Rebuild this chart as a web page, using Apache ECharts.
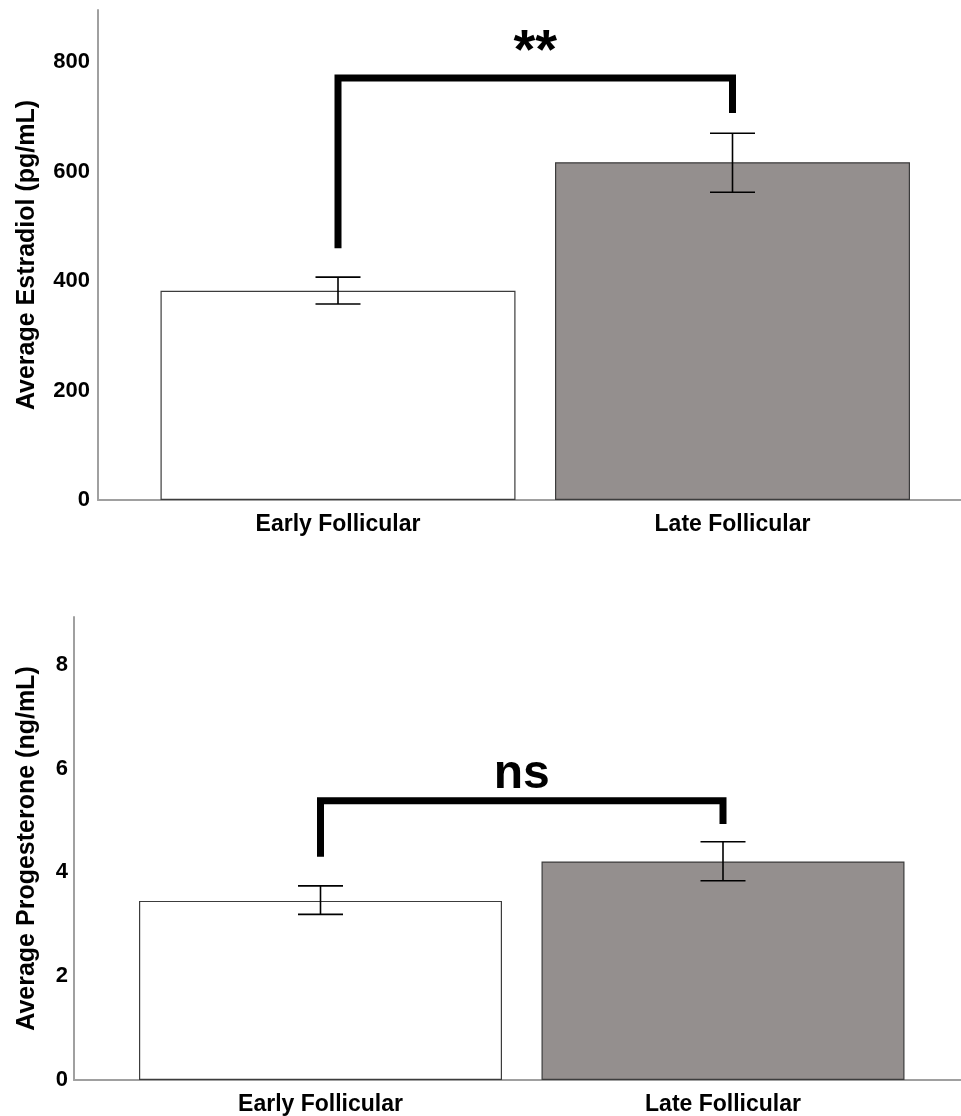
<!DOCTYPE html>
<html>
<head>
<meta charset="utf-8">
<script src="https://cdn.jsdelivr.net/npm/echarts@6/dist/echarts.min.js"></script>
<style>
  html, body { margin: 0; padding: 0; background: #fff; }
  #chart { width: 961px; height: 1116px; }
</style>
</head>
<body>
<div id="chart"></div>
<script>
// ---- data ----
const categories = ['Early Follicular', 'Late Follicular'];
const estradiolMean = [382, 617];
const estradiolLow = [358, 562];
const estradiolHigh = [407, 670];
const progMean = [3.45, 4.21];
const progLow = [3.19, 3.84];
const progHigh = [3.74, 4.59];
const estradiolTitle = 'Average Estradiol (pg/mL)';
const progTitle = 'Average Progesterone (ng/mL)';
const estradiolAxis = [0, 895, 200];   // min, max, interval
const progAxis = [0, 8.92, 2];
// bracket: [top, left leg bottom, right leg bottom]
const estradiolBracket = [771, 460, 707];
const progBracket = [5.38, 4.30, 4.93];
const sigLabels = ['**', 'ns'];
const sigLabelY = [818, 5.88];

const FONT = "'Liberation Sans', Arial, sans-serif";
const barColors = ['#ffffff', '#948f8e'];
const axisGray = '#a0a0a0';

const chart = echarts.init(document.getElementById('chart'), null, { renderer: 'canvas' });

function frameGrid(left, top, height) {
  return { left: left, right: 0, top: top, height: height, containLabel: false, outerBoundsMode: 'none' };
}

function errorSeries(xi, yi, low, high) {
  return {
    type: 'custom', xAxisIndex: xi, yAxisIndex: yi, z: 5, silent: true,
    data: categories.map((c, i) => [i, low[i], high[i]]),
    renderItem: function (params, api) {
      const lo = api.coord([api.value(0), api.value(1)]);
      const hi = api.coord([api.value(0), api.value(2)]);
      const hw = 22.5;
      const st = { stroke: '#000', lineWidth: 1.6 };
      return { type: 'group', children: [
        { type: 'line', shape: { x1: lo[0], y1: lo[1], x2: hi[0], y2: hi[1] }, style: st },
        { type: 'line', shape: { x1: hi[0] - hw, y1: hi[1], x2: hi[0] + hw, y2: hi[1] }, style: st },
        { type: 'line', shape: { x1: lo[0] - hw, y1: lo[1], x2: lo[0] + hw, y2: lo[1] }, style: st }
      ]};
    }
  };
}

function bracketSeries(xi, yi, br, label, labelY, fontSize) {
  return {
    type: 'custom', xAxisIndex: xi, yAxisIndex: yi, z: 6, silent: true, clip: false,
    data: [[0, br[0], br[1], br[2], labelY]],
    renderItem: function (params, api) {
      const tl = api.coord([0, api.value(1)]);
      const tr = api.coord([1, api.value(1)]);
      const bl = api.coord([0, api.value(2)]);
      const brr = api.coord([1, api.value(3)]);
      const ly = api.coord([0, api.value(4)])[1];
      const lx = (tl[0] + tr[0]) / 2;
      return { type: 'group', children: [
        { type: 'polyline',
          shape: { points: [[bl[0], bl[1]], [tl[0], tl[1]], [tr[0], tr[1]], [brr[0], brr[1]]] },
          style: { stroke: '#000', lineWidth: 7, fill: null, lineJoin: 'miter', lineCap: 'butt' } },
        { type: 'text', x: lx, y: ly,
          style: { text: label, fill: '#000', fontSize: fontSize, fontWeight: 'bold',
                   fontFamily: FONT, align: 'center', verticalAlign: 'middle' } }
      ]};
    }
  };
}

function frameX(gi) {
  return { type: 'value', gridIndex: gi, min: 0, max: 1,
    axisLine: { show: true, lineStyle: { color: axisGray, width: 2 } },
    axisTick: { show: false }, axisLabel: { show: false }, splitLine: { show: false } };
}
function frameY(gi, ax, title, gap, labMargin) {
  return { type: 'value', gridIndex: gi, min: ax[0], max: ax[1], interval: ax[2],
    name: title, nameLocation: 'middle', nameGap: gap, nameRotate: 90,
    nameTextStyle: { fontFamily: FONT, fontWeight: 'bold', fontSize: 25, color: '#000' },
    axisLine: { show: true, lineStyle: { color: axisGray, width: 2 } },
    axisTick: { show: false },
    axisLabel: { fontFamily: FONT, fontWeight: 'bold', fontSize: 22, color: '#000', margin: labMargin,
                 showMaxLabel: false },
    splitLine: { show: false } };
}
function catX(gi) {
  return { type: 'category', gridIndex: gi, data: categories,
    axisLine: { show: false }, axisTick: { show: false },
    axisLabel: { fontFamily: FONT, fontWeight: 'bold', fontSize: 23, color: '#000', margin: 13 } };
}
function hiddenY(gi, ax) {
  return { type: 'value', gridIndex: gi, min: ax[0], max: ax[1], show: false, splitLine: { show: false } };
}
function barSeries(xi, yi, vals, width) {
  return { type: 'bar', xAxisIndex: xi, yAxisIndex: yi, barWidth: width, z: 3, silent: true,
    data: vals.map((v, i) => ({ value: v,
      itemStyle: { color: barColors[i], borderColor: '#3c3c3c', borderWidth: 1.2 } })) };
}

const option = {
  animation: false,
  backgroundColor: '#fff',
  grid: [
    frameGrid(98, 10, 490),
    { left: 140.75, right: 31.25, top: 10, height: 490, outerBoundsMode: 'none' },
    frameGrid(74, 617, 463),
    { left: 119.25, right: 36.75, top: 617, height: 463, outerBoundsMode: 'none' }
  ],
  xAxis: [frameX(0), catX(1), frameX(2), catX(3)],
  yAxis: [frameY(0, estradiolAxis, estradiolTitle, 58, 8), hiddenY(1, estradiolAxis),
          frameY(2, progAxis, progTitle, 34, 6), hiddenY(3, progAxis)],
  series: [
    barSeries(1, 1, estradiolMean, 355),
    errorSeries(1, 1, estradiolLow, estradiolHigh),
    bracketSeries(1, 1, estradiolBracket, sigLabels[0], sigLabelY[0], 56),
    barSeries(3, 3, progMean, 363),
    errorSeries(3, 3, progLow, progHigh),
    bracketSeries(3, 3, progBracket, sigLabels[1], sigLabelY[1], 48)
  ]
};
chart.setOption(option);
</script>
</body>
</html>
